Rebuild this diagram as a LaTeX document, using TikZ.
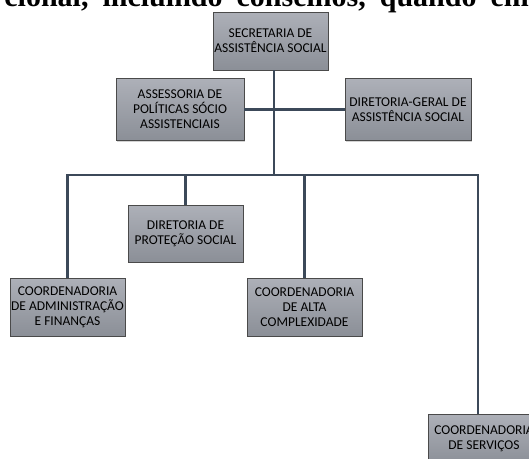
\documentclass[tikz,border=0pt]{standalone}
\usepackage{fontspec}
\setmainfont{Liberation Serif}
\newfontfamily\boxfont{Carlito}
\usepackage{xcolor}
\usepackage{tikz}
\usetikzlibrary{positioning,calc,shadows}
\definecolor{boxtop}{HTML}{ADB0B8}
\definecolor{boxbot}{HTML}{8B8F97}
\definecolor{boxline}{HTML}{4A4A4A}
\definecolor{linkcol}{HTML}{3C4959}
\tikzset{
  orgbox/.style={draw=boxline, line width=0.8pt, top color=boxtop, bottom color=boxbot,
    align=center, inner sep=1pt, font=\boxfont\fontsize{13.5}{15}\selectfont,
    drop shadow={shadow xshift=1pt, shadow yshift=-1pt, opacity=0.35}},
  link/.style={draw=linkcol, line width=2.8pt}
}

\begin{document}
\begin{tikzpicture}[x=1pt, y=-1pt, thick]
    \useasboundingbox (0,0) rectangle (529,458);
    \clip (0,0) rectangle (529,458);
    \node[anchor=base west, inner sep=0pt, font=\bfseries\fontsize{30}{36}\selectfont] (head) at (4,6)
        {\spaceskip=14pt cional, incluindo conselhos, quando em};

    \node[orgbox, minimum width=115pt, minimum height=58pt] (sec) at (270.5,41) {SECRETARIA DE\\ASSISTÊNCIA SOCIAL};
    \node[orgbox, minimum width=128pt, minimum height=62pt] (ass) at (180,109.5) {ASSESSORIA DE\\POLÍTICAS SÓCIO\\ASSISTENCIAIS};
    \node[orgbox, minimum width=126pt, minimum height=62pt] (dg) at (408,109.5) {DIRETORIA-GERAL DE\\ASSISTÊNCIA SOCIAL};
    \node[orgbox, minimum width=115pt, minimum height=57pt] (prot) at (185.5,233.5) {DIRETORIA DE\\PROTEÇÃO SOCIAL};
    \node[orgbox, minimum width=115pt, minimum height=58pt] (adm) at (67.5,307) {COORDENADORIA\\DE ADMINISTRAÇÃO\\E FINANÇAS};
    \node[orgbox, minimum width=115pt, minimum height=58pt] (alta) at (304.5,307) {COORDENADORIA\\DE ALTA\\COMPLEXIDADE};
    \node[orgbox, minimum width=112pt, minimum height=50pt] (serv) at (484,439) {COORDENADORIA\\DE SERVIÇOS};

    \coordinate (trunk) at (274,175);
    \coordinate (busR) at (478,175);
    \draw[link] (sec.south -| trunk) -- (trunk);
    \draw[link] (ass.east) -- (dg.west);
    \draw[link] (adm.north) -- (adm.north |- trunk) -- (busR) -- (busR |- serv.north);
    \draw[link] (prot.north |- trunk) -- (prot.north);
    \draw[link] (alta.north |- trunk) -- (alta.north);
\end{tikzpicture}
\end{document}
